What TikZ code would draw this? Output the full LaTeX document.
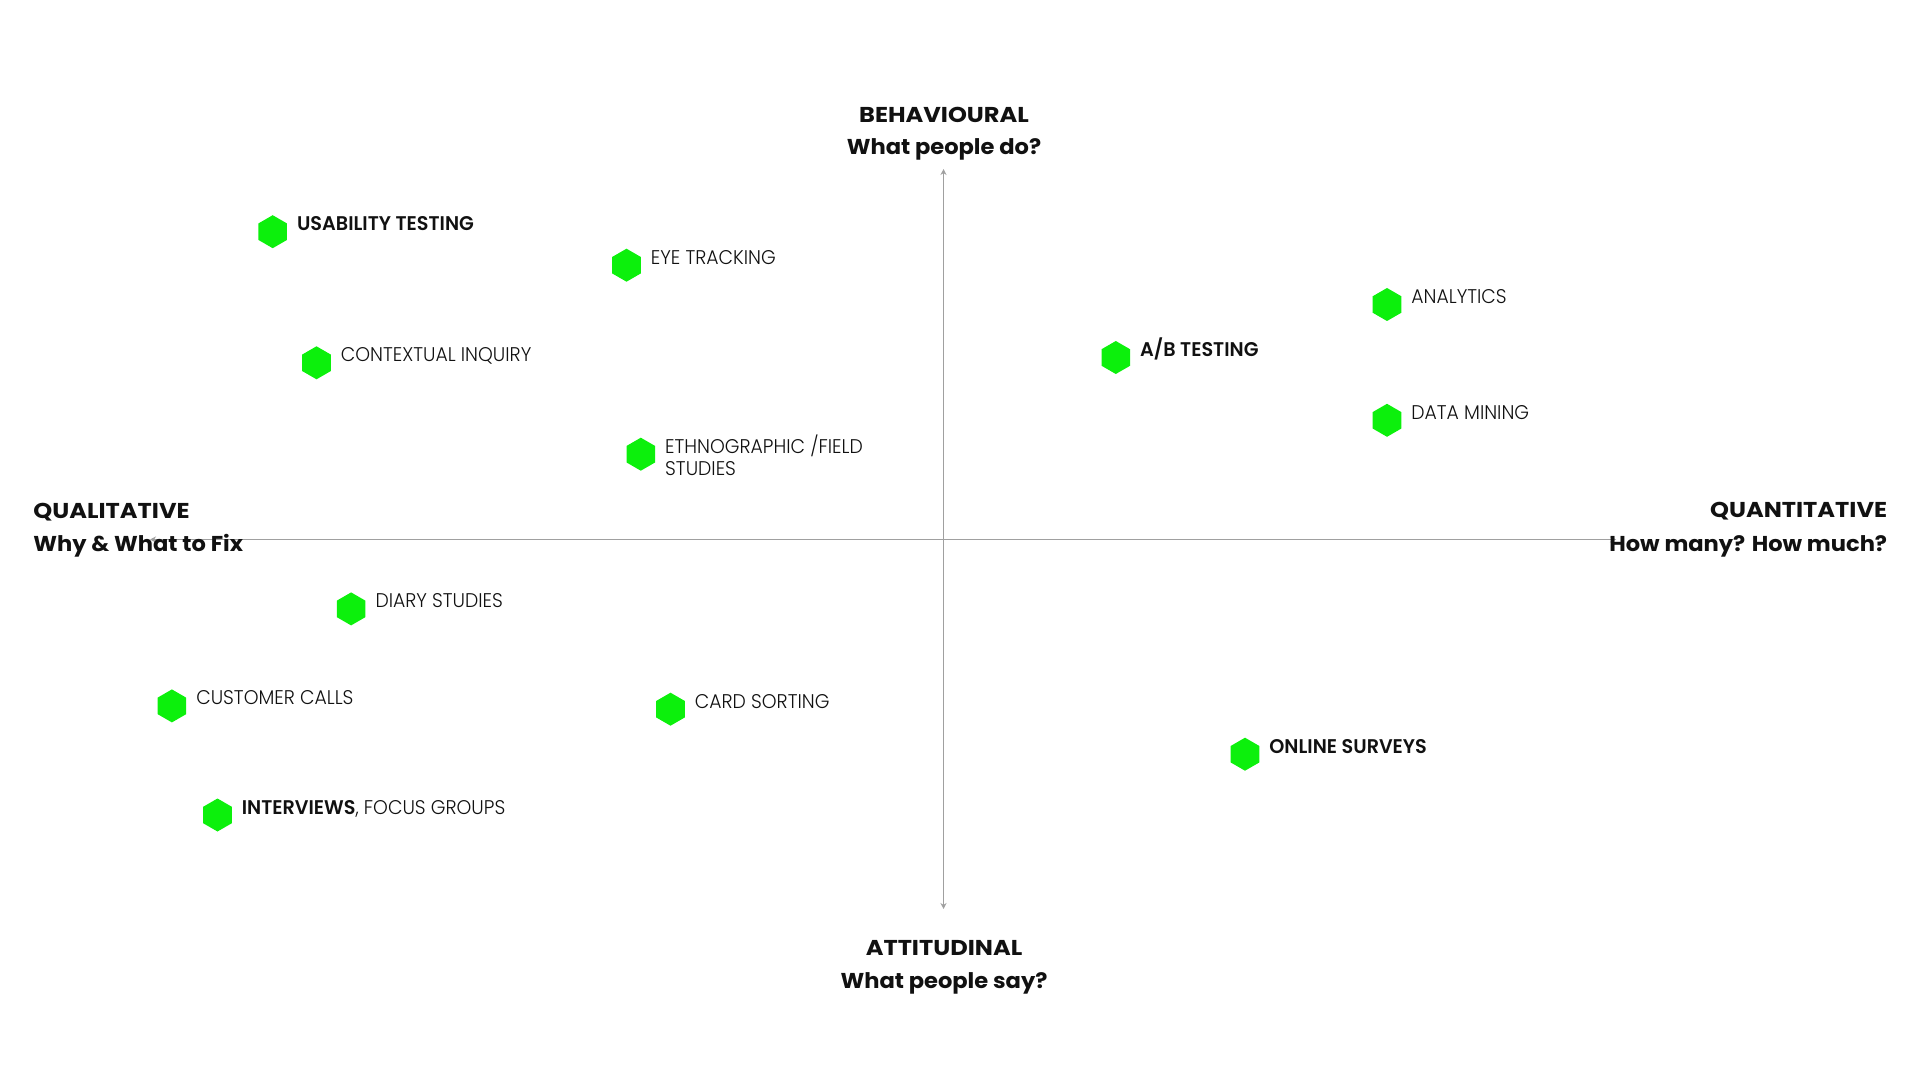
\documentclass[tikz,border=0pt]{standalone}
\usepackage{fontspec}
\setmainfont{Poppins}
\newfontfamily\lightfont{Poppins Light}[FakeStretch=0.95]
\newfontfamily\semifont{Poppins SemiBold}[FakeStretch=0.97]
\newfontfamily\headcapsfont{Poppins Bold}[FakeStretch=1.12]
\newfontfamily\headlowfont{Poppins Bold}[FakeStretch=1.05]
\usetikzlibrary{shapes.geometric,arrows.meta}
\definecolor{hexgreen}{RGB}{12,240,12}
\definecolor{axisgrey}{RGB}{160,160,160}
\definecolor{ink}{RGB}{17,17,17}
\tikzset{
  hexmark/.style={regular polygon, regular polygon sides=6, shape border rotate=30,
    fill=hexgreen, draw=none, inner sep=0pt, minimum size=16.5pt},
  lbl/.style={anchor=base west, inner sep=0pt, text=ink,
    font=\lightfont\fontsize{9.9}{11}\selectfont},
  lblb/.style={lbl, font=\semifont\fontsize{9.9}{11}\selectfont},
  headcaps/.style={inner sep=0pt, text=ink, font=\headcapsfont\fontsize{10.75}{13}\selectfont},
  headlow/.style={inner sep=0pt, text=ink, font=\headlowfont\fontsize{10.75}{13}\selectfont},
  axis/.style={draw=axisgrey, line width=0.5pt,
    {Stealth[length=3pt,width=3pt]}-{Stealth[length=3pt,width=3pt]}}
}
\begin{document}
\begin{tikzpicture}[x=0.5pt,y=-0.5pt]
\useasboundingbox (0,0) rectangle (1920,1080);
% axes
\coordinate (vtop) at (943.5,169);
\coordinate (vbot) at (943.5,909);
\coordinate (hleft) at (150,539.5);
\coordinate (hright) at (1616,539.5);
\draw[axis] (vbot) -- (vtop);
\draw[axis] (hleft) -- (hright);
% headings
\node[headcaps, anchor=base] (beh1) at (944,123) {BEHAVIOURAL};
\node[headlow, anchor=base] (beh2) at (944,155) {What people do?};
\node[headcaps, anchor=base] (att1) at (944,955) {ATTITUDINAL};
\node[headlow, anchor=base] (att2) at (944,988) {What people say?};
\node[headcaps, anchor=base west] (qual1) at (33,518) {QUALITATIVE};
\node[headlow, anchor=base west] (qual2) at (33,551.5) {Why \& What to Fix};
\node[headcaps, anchor=base east] (quan1) at (1887.5,517) {QUANTITATIVE};
\node[headlow, anchor=base east] (quan2) at (1887.5,551) {How many? How much?};
% methods
\node[hexmark] (h1) at (272.7,231.7) {};
\node[lblb] (t1) at ([xshift=12pt,yshift=0.5pt]h1.center) {USABILITY TESTING};
\node[hexmark] (h2) at (626.5,265.2) {};
\node[lbl] (t2) at ([xshift=12pt,yshift=0.5pt]h2.center) {EYE TRACKING};
\node[hexmark] (h3) at (316.5,362.8) {};
\node[lbl] (t3) at ([xshift=12pt,yshift=0.5pt]h3.center) {CONTEXTUAL INQUIRY};
\node[hexmark] (h4) at (640.8,454.2) {};
\node[lbl] (t4) at ([xshift=12pt,yshift=0.5pt]h4.center) {ETHNOGRAPHIC /FIELD};
\node[lbl] (t4b) at ([yshift=-11pt]t4.base west) {STUDIES};
\node[hexmark] (h5) at (1387,304.5) {};
\node[lbl] (t5) at ([xshift=12pt,yshift=0.5pt]h5.center) {ANALYTICS};
\node[hexmark] (h6) at (1115.8,357.5) {};
\node[lblb] (t6) at ([xshift=12pt,yshift=0.5pt]h6.center) {A/B TESTING};
\node[hexmark] (h7) at (1387,420.3) {};
\node[lbl] (t7) at ([xshift=12pt,yshift=0.5pt]h7.center) {DATA MINING};
\node[hexmark] (h8) at (351.1,608.9) {};
\node[lbl] (t8) at ([xshift=12pt,yshift=0.5pt]h8.center) {DIARY STUDIES};
\node[hexmark] (h9) at (171.9,705.9) {};
\node[lbl] (t9) at ([xshift=12pt,yshift=0.5pt]h9.center) {CUSTOMER CALLS};
\node[hexmark] (h10) at (670.5,709.2) {};
\node[lbl] (t10) at ([xshift=12pt,yshift=0.5pt]h10.center) {CARD SORTING};
\node[hexmark] (h11) at (1245,754.2) {};
\node[lblb] (t11) at ([xshift=12pt,yshift=0.5pt]h11.center) {ONLINE SURVEYS};
\node[hexmark] (h12) at (217.5,815) {};
\node[lbl] (t12) at ([xshift=12pt,yshift=0.5pt]h12.center) {{\semifont INTERVIEWS}, FOCUS GROUPS};
\end{tikzpicture}
\end{document}
